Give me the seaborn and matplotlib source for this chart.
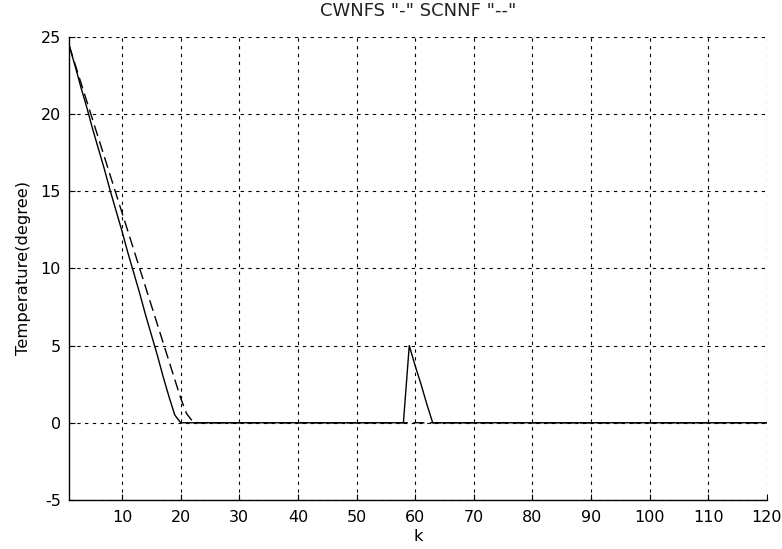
"""Recreate CWNFS vs SCNNF temperature trajectory plot."""

import matplotlib

matplotlib.use("Agg")
import matplotlib.pyplot as plt
import numpy as np
import pandas as pd
import seaborn as sns

K = list(range(1, 121))

# CWNFS (solid): descends to zero by k=20, small disturbance around k=59
CWNFS_HEAD = [24.4, 23.1, 21.7, 20.4, 19.0, 17.7, 16.4, 15.0, 13.7, 12.4,
              11.0, 9.7, 8.4, 7.0, 5.7, 4.4, 3.0, 1.7, 0.5, 0.0]
CWNFS_SPIKE = {58: 0.0, 59: 5.0, 60: 3.7, 61: 2.5, 62: 1.2, 63: 0.0}

# SCNNF (dashed): slower descent, reaches zero around k=22
SCNNF_HEAD = [24.4, 23.2, 22.0, 20.8, 19.6, 18.4, 17.2, 16.0, 14.8, 13.6,
              12.4, 11.2, 10.0, 8.8, 7.6, 6.4, 5.2, 4.0, 2.8, 1.6,
              0.6, 0.1, 0.0]


def build_series(head, extra=None):
    vals = head + [0.0] * (len(K) - len(head))
    for k, v in (extra or {}).items():
        vals[k - 1] = v
    return vals


def main() -> None:
    cwnfs = build_series(CWNFS_HEAD, CWNFS_SPIKE)
    scnnf = build_series(SCNNF_HEAD)
    df = pd.DataFrame({"k": K, "cwnfs": cwnfs, "scnnf": scnnf})

    sns.set_style("white")
    plt.rcParams["font.family"] = ["DejaVu Sans"]
    plt.rcParams["axes.unicode_minus"] = False

    fig = plt.figure(figsize=(7.82, 5.49), dpi=100)
    ax = fig.add_axes([0.0886, 0.0893, 0.892, 0.8439])

    sns.lineplot(data=df, x="k", y="cwnfs", ax=ax, color="black",
                 linewidth=1.0, linestyle="-")
    sns.lineplot(data=df, x="k", y="scnnf", ax=ax, color="black",
                 linewidth=1.0, dashes=(8, 4))

    ax.set_xlim(1, 120)
    ax.set_ylim(-5, 25)
    ax.set_xticks(np.arange(10, 121, 10))
    ax.set_yticks(np.arange(-5, 26, 5))
    ax.grid(True, color="black", linestyle=(0, (3, 4)), linewidth=0.8)
    ax.tick_params(axis="both", labelsize=11.5, direction="in", length=4,
                   colors="black", left=True, bottom=True)
    ax.tick_params(axis="x", pad=7)
    ax.tick_params(axis="y", pad=6)
    for side in ("top", "right"):
        ax.spines[side].set_visible(False)
    for side in ("left", "bottom"):
        ax.spines[side].set_color("black")
        ax.spines[side].set_linewidth(1.0)

    ax.set_xlabel("k", fontsize=11.5, labelpad=3, color="black")
    ax.set_ylabel("Temperature(degree)", fontsize=11.8, labelpad=7,
                  color="black")
    ax.set_title('CWNFS "-" SCNNF "--"', fontsize=13, pad=15,
                 color="#222222")

    fig.savefig("out.png", dpi=100)
    plt.close(fig)


if __name__ == "__main__":
    main()
